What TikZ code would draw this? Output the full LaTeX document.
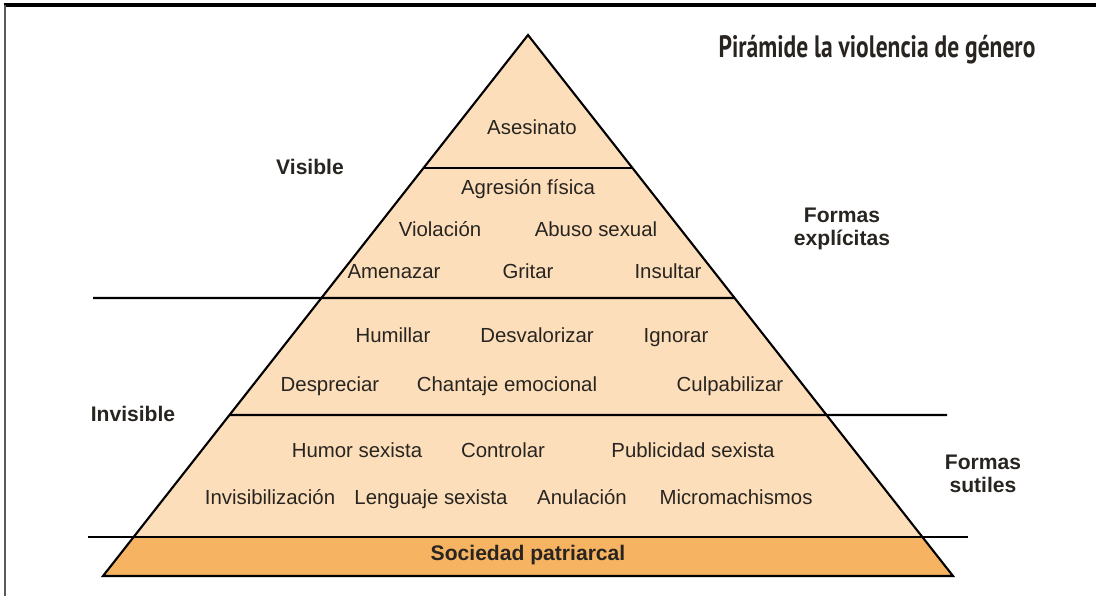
\documentclass[tikz,border=0pt]{standalone}
\usepackage{fontspec}
\setmainfont{Liberation Sans}
\newfontfamily\headfont{PT Sans}
\usepackage{tikz}
\usetikzlibrary{calc}
\definecolor{peach}{RGB}{252,222,187}
\definecolor{baseorange}{RGB}{246,180,98}
\definecolor{ink}{RGB}{40,36,32}

\begin{document}
\begin{tikzpicture}[x=0.025cm, y=-0.025cm, line width=1.5pt,
      every node/.append style={text=ink, inner sep=0pt},
      word/.style={font=\fontsize{14.5}{17}\selectfont, text height=11.4pt, text depth=3.4pt},
      side/.style={font=\bfseries\fontsize{15}{16.4}\selectfont, align=center}]
    \useasboundingbox (0,0) rectangle (1096,596);
    % frame
    \draw[line width=2.2pt] (4,5) -- (1096,5);
    \draw[black!65, line width=1.2pt] (5,5) -- (5,596);
    % pyramid
    \coordinate (apex) at (528,35);
    \coordinate (bl) at (103,576);
    \coordinate (br) at (953,576);
    \fill[peach] (apex) -- ($(apex)!0.9279!(bl)$) -- ($(apex)!0.9279!(br)$) -- cycle;
    \fill[baseorange] ($(apex)!0.9279!(bl)$) -- (bl) -- (br) -- ($(apex)!0.9279!(br)$) -- cycle;
    \draw[line join=miter] (apex) -- (bl) -- (br) -- cycle;
    % levels
    \draw ($(apex)!0.2458!(bl)$) -- ($(apex)!0.2458!(br)$);
    \draw (93,298) -- ($(apex)!0.4861!(br)$);
    \draw ($(apex)!0.7024!(bl)$) -- (947,415);
    \draw (88,537) -- (968,537);
    % title
    \node (title) at (877,50) {\scalebox{0.76}[1]{\headfont\bfseries\fontsize{22}{24}\selectfont Pirámide la violencia de género}};
    % inside the pyramid
    \node[word] (asesinato) at (532,129) {Asesinato};
    \node[word] (agresion) at (528,189) {Agresión física};
    \node[word] (violacion) at (440,231) {Violación};
    \node[word] (abuso) at (596,231) {Abuso sexual};
    \node[word] (amenazar) at (394,273) {Amenazar};
    \node[word] (gritar) at (528,273) {Gritar};
    \node[word] (insultar) at (668,273) {Insultar};
    \node[word] (humillar) at (393,337) {Humillar};
    \node[word] (desvalorizar) at (537,337) {Desvalorizar};
    \node[word] (ignorar) at (676,337) {Ignorar};
    \node[word] (despreciar) at (330,386) {Despreciar};
    \node[word] (chantaje) at (507,386) {Chantaje emocional};
    \node[word] (culpabilizar) at (730,386) {Culpabilizar};
    \node[word] (humor) at (357,452) {Humor sexista};
    \node[word] (controlar) at (503,452) {Controlar};
    \node[word] (publicidad) at (693,452) {Publicidad sexista};
    \node[word] (invisibilizacion) at (270,499) {Invisibilización};
    \node[word] (lenguaje) at (431,499) {Lenguaje sexista};
    \node[word] (anulacion) at (582,499) {Anulación};
    \node[word] (micro) at (736,499) {Micromachismos};
    \node[side] (sociedad) at (528,555) {Sociedad patriarcal};
    % side labels
    \node[side] (visible) at (310,167) {Visible};
    \node[side] (invisible) at (133,414) {Invisible};
    \node[side] (explicitas) at (842,229) {Formas\\explícitas};
    \node[side] (sutiles) at (983,474) {Formas\\sutiles};
\end{tikzpicture}
\end{document}
